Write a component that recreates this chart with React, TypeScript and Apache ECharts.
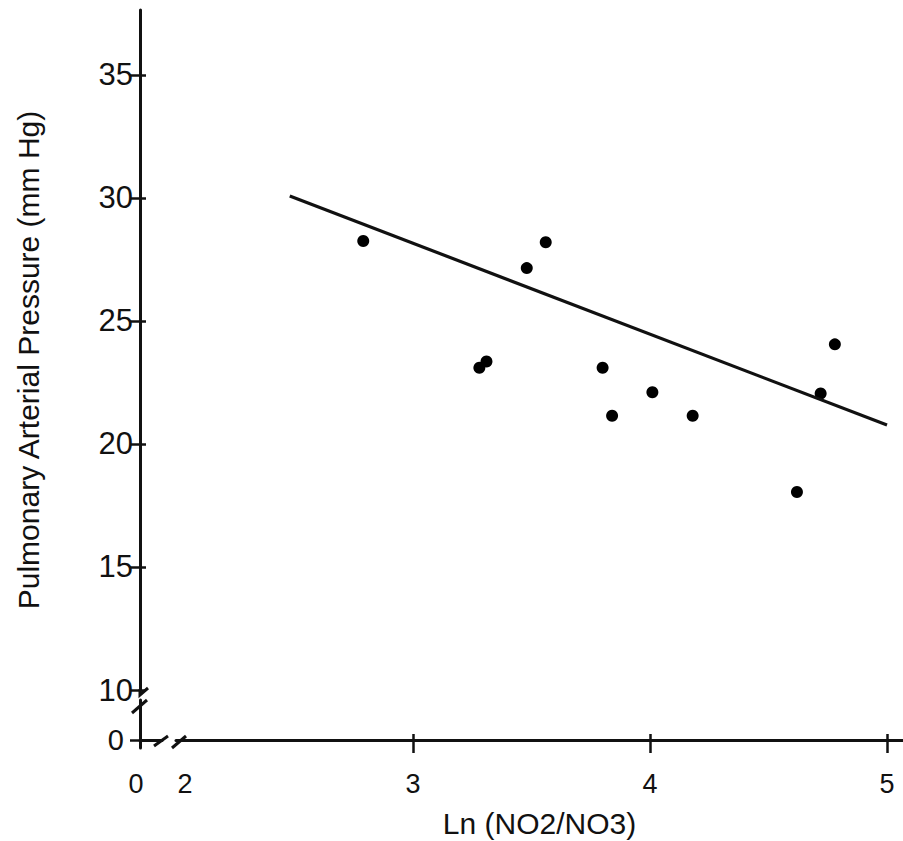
import React, { useEffect, useRef } from "react";
import * as echarts from "echarts";

// Data
const lnRatio = [2.79, 3.28, 3.31, 3.48, 3.56, 3.8, 3.84, 4.01, 4.18, 4.62, 4.72, 4.78];
const pressure = [28.25, 23.1, 23.35, 27.15, 28.2, 23.1, 21.15, 22.1, 21.15, 18.05, 22.05, 24.05];
const fitX = [2.48, 5.0];
const fitY = [30.08, 20.77];
const yTicks = [10, 15, 20, 25, 30, 35];
const xTicks = [3, 4, 5];
const xLabelValues = [2, 3, 4, 5];
const yTitle = "Pulmonary Arterial Pressure (mm Hg)";
const xTitle = "Ln (NO2/NO3)";

const FONT = "'Liberation Sans', Arial, sans-serif";
const INK = "#111111";

export default function App() {
  const ref = useRef<HTMLDivElement>(null);

  useEffect(() => {
    document.body.style.margin = "0";
    if (!ref.current) return;
    const chart = echarts.init(ref.current, null, { renderer: "svg" });
    const xMin0 = 1.848;
    const xMax = 5.0675;
    const axisLine = { show: true, lineStyle: { color: INK, width: 3 } };
    const option: any = {
      animation: false,
      backgroundColor: "#ffffff",
      textStyle: { fontFamily: FONT, color: INK },
      grid: [
        { left: 140, top: 10, width: 763, height: 680 },
        { left: 140, top: 700, width: 22, height: 48 },
        { left: 176, top: 700, width: 727, height: 40 },
      ],
      xAxis: [
        { gridIndex: 0, type: "value", min: xMin0, max: xMax, show: false },
        {
          gridIndex: 1,
          type: "value",
          min: 0,
          max: 1,
          axisLine: { ...axisLine, onZero: true },
          axisTick: { show: false },
          splitLine: { show: false },
          axisLabel: {
            customValues: [0],
            formatter: () => "0",
            margin: 22,
            fontSize: 27,
            fontFamily: FONT,
            color: INK,
            padding: [0, 8, 0, 0],
          },
        },
        {
          gridIndex: 2,
          type: "value",
          min: 2,
          max: xMax,
          axisLine: { ...axisLine, onZero: false },
          axisTick: {
            customValues: xTicks,
            length: 13,
            lineStyle: { color: INK, width: 2.5 },
          },
          splitLine: { show: false },
          axisLabel: {
            customValues: xLabelValues,
            formatter: (v: number) => (v === 2 ? "{s|2}" : String(v)),
            margin: 30,
            fontSize: 27,
            fontFamily: FONT,
            color: INK,
            rich: { s: { padding: [0, 0, 0, 18], fontSize: 27, fontFamily: FONT, color: INK } },
          },
          name: xTitle,
          nameLocation: "middle",
          nameGap: 68,
          nameTextStyle: { fontSize: 30, fontFamily: FONT, color: INK },
        },
        {
          gridIndex: 2,
          type: "value",
          min: 2,
          max: xMax,
          position: "bottom",
          axisLine: { show: false, onZero: false },
          axisTick: {
            inside: true,
            customValues: xTicks,
            length: 6,
            lineStyle: { color: INK, width: 2.5 },
          },
          axisLabel: { show: false },
          splitLine: { show: false },
        },
      ],
      yAxis: [
        {
          gridIndex: 0,
          type: "value",
          min: 10,
          max: 37.64,
          axisLine,
          axisTick: {
            customValues: yTicks,
            length: 10,
            lineStyle: { color: INK, width: 2.5 },
          },
          splitLine: { show: false },
          axisLabel: {
            customValues: yTicks,
            margin: 7,
            fontSize: 31,
            fontFamily: FONT,
            color: INK,
          },
        },
        {
          gridIndex: 0,
          type: "value",
          min: 10,
          max: 37.64,
          position: "left",
          axisLine: { show: false },
          axisTick: {
            inside: true,
            customValues: yTicks,
            length: 6,
            lineStyle: { color: INK, width: 2.5 },
          },
          axisLabel: { show: false },
          splitLine: { show: false },
        },
        {
          gridIndex: 1,
          type: "value",
          min: -1,
          max: 5,
          axisLine,
          axisTick: {
            customValues: [0],
            length: 10,
            lineStyle: { color: INK, width: 2.5 },
          },
          splitLine: { show: false },
          axisLabel: {
            customValues: [0],
            margin: 16,
            fontSize: 29,
            fontFamily: FONT,
            color: INK,
          },
        },
        { gridIndex: 2, type: "value", min: 0, max: 1, show: false },
      ],
      series: [
        {
          type: "line",
          xAxisIndex: 0,
          yAxisIndex: 0,
          data: fitX.map((x, i) => [x, fitY[i]]),
          showSymbol: false,
          symbol: "none",
          lineStyle: { color: INK, width: 3.2 },
          silent: true,
        },
        {
          type: "scatter",
          xAxisIndex: 0,
          yAxisIndex: 0,
          data: lnRatio.map((x, i) => [x, pressure[i]]),
          symbol: "circle",
          symbolSize: 12,
          itemStyle: { color: "#000000", opacity: 1 },
        },
      ],
      graphic: [
        {
          type: "text",
          x: 28,
          y: 360,
          rotation: Math.PI / 2,
          style: {
            text: yTitle,
            fontSize: 30,
            fontFamily: FONT,
            fill: INK,
            align: "center",
            verticalAlign: "middle",
          },
        },
        {
          type: "polyline",
          shape: { points: [[140, 689], [140, 695], [148, 688]] },
          style: { stroke: INK, lineWidth: 3, fill: "none" },
        },
        {
          type: "line",
          shape: { x1: 132, y1: 713, x2: 147, y2: 700 },
          style: { stroke: INK, lineWidth: 3 },
        },
        {
          type: "line",
          shape: { x1: 154, y1: 746, x2: 168, y2: 736 },
          style: { stroke: INK, lineWidth: 3 },
        },
        {
          type: "line",
          shape: { x1: 172, y1: 748, x2: 186, y2: 736 },
          style: { stroke: INK, lineWidth: 3 },
        },
      ],
    };
    chart.setOption(option);
    return () => chart.dispose();
  }, []);

  return <div ref={ref} style={{ width: 903, height: 841 }} />;
}
